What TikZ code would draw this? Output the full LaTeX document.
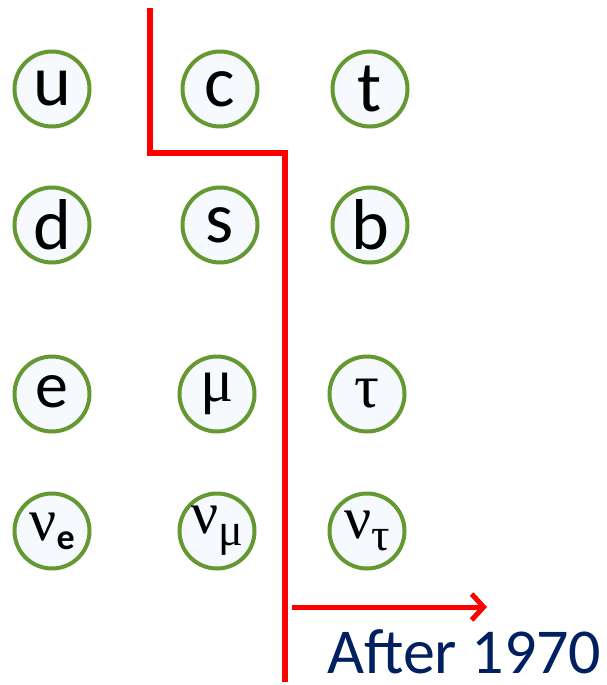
\documentclass[tikz,border=0pt]{standalone}
\usepackage{fontspec}
\setmainfont{Carlito}
\newfontfamily\greekfont{Liberation Serif}
\usetikzlibrary{arrows.meta}
\definecolor{ringgreen}{RGB}{100,152,48}
\definecolor{ringfill}{RGB}{246,250,255}
\definecolor{navytext}{RGB}{0,32,96}
\newcommand*{\FS}[1]{\fontsize{#1}{#1}\selectfont}
\newcommand*{\Nu}[2]{{\greekfont\FS{60}ν}\raisebox{#1}{#2}}

\tikzset{
  particle/.style={circle, draw=ringgreen, fill=ringfill, line width=4pt,
    minimum size=75pt, inner sep=0pt},
  divider/.style={draw=red, line width=6pt},
}

\begin{document}
\begin{tikzpicture}[x=1pt,y=-1pt]
\useasboundingbox (0,0) rectangle (607,685);

% quarks
\foreach \x/\y/\name/\text in {52/89/u/u, 220/89/c/c, 370/89/t/t,
    52/225/d/d, 220/225/s/s, 370/225/b/b} {
  \node [particle, font=\FS{72}] (\name) at (\x,\y) {\text};
}

% leptons
\node [particle, font=\FS{66}] (e) at (52,394) {\raisebox{6pt}{e}};
\node [particle, font=\greekfont\FS{62}] (mu) at (217,394) {μ};
\node [particle, font=\greekfont\FS{62}] (tau) at (367,394) {τ};
\node [particle] (nue) at (52,531) {\Nu{-9pt}{\bfseries\FS{36}e}};
\node [particle] (numu) at (217,531) {\Nu{-12pt}{\greekfont\FS{46}μ}};
\node [particle] (nutau) at (367,531) {\Nu{-12pt}{\greekfont\FS{46}τ}};

% dividing line
\coordinate (top) at (150,8);
\coordinate (kink) at (150,153);
\coordinate (corner) at (285,153);
\coordinate (bottom) at (285,682);
\draw [divider, line join=miter] (top) -- (kink) -- (corner) -- (bottom);

\coordinate (arrstart) at (292,607);
\coordinate (arrend) at (487,607);
\draw [draw=red, line width=5pt, -{Straight Barb[length=12pt,width=26pt]}] (arrstart) -- (arrend);

\node [anchor=base west, inner sep=0pt, text=navytext, font=\FS{64}] (after) at (327,673) {After 1970};
\end{tikzpicture}
\end{document}
